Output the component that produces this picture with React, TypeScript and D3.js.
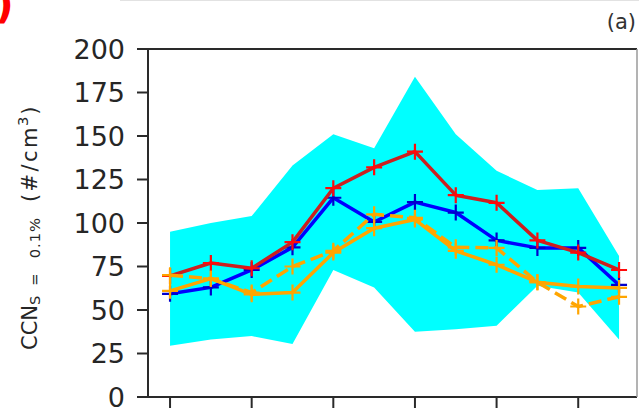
import React from "react";
import { scaleLinear, line, area } from "d3";

// month index on the x axis
const months = [1, 2, 3, 4, 5, 6, 7, 8, 9, 10, 11, 12];
// spread (shaded cyan band)
const bandLower = [29.5, 33, 35, 30.5, 73, 63, 37.5, 39, 41, 64, 60, 33];
const bandUpper = [95, 100, 104, 133, 151, 143, 184, 151, 130, 119, 120, 81];
// series
const redSeries = [69.6, 77, 74, 89, 120, 132, 141, 116, 111.6, 90, 83, 73];
const blueSeries = [59.3, 63, 73, 86, 114.5, 100.6, 112, 106, 90, 85.7, 85.7, 64.4];
const orangeSolid = [61, 68, 59, 60, 83, 97, 102, 84, 76, 66, 63.5, 62.7];
const orangeDashed = [70, 68, 60, 75, 84, 105, 103, 86, 85.7, 66, 52, 57.6];
// ticks
const yTicks = [0, 25, 50, 75, 100, 125, 150, 175, 200];
const xTicks = [1, 3, 5, 7, 9, 11];

const W = 639;
const H = 408;
const left = 148, right = 637, top = 49, bottom = 397;

export default function App() {
  const x = scaleLinear().domain([0.46, 12.44]).range([left, right]);
  const y = scaleLinear().domain([0, 200]).range([bottom, top]);

  const bandPath = area<number>()
    .x((d, i) => x(months[i]))
    .y0((d, i) => y(bandLower[i]))
    .y1((d) => y(d))(bandUpper);

  const lineGen = line<number>()
    .x((d, i) => x(months[i]))
    .y((d) => y(d));

  const series = [
    { values: blueSeries, stroke: "#0000ff", marker: "#0000cc", dash: undefined },
    { values: redSeries, stroke: "#cc1f1f", marker: "#ff0a0a", dash: undefined },
    { values: orangeSolid, stroke: "#ffa500", marker: "#ffa500", dash: undefined },
    { values: orangeDashed, stroke: "#ffa500", marker: "#ffa500", dash: "13 6" },
  ];

  const m = 8; // half marker size
  const font = "DejaVu Sans, sans-serif";

  return (
    <svg
      width={W}
      height={H}
      style={{ position: "absolute", left: 0, top: 0, background: "#fff" }}
    >
      <line x1={120} x2={W} y1={0.5} y2={0.5} stroke="#e2e2e2" strokeWidth={1} />
      <text x={-5} y={18} fontFamily={font} fontSize={41} fill="#ff0000" fontWeight="bold">
        )
      </text>
      <text x={636} y={29} textAnchor="end" fontFamily={font} fontSize={21} fill="#333">
        (a)
      </text>

      <path d={bandPath || ""} fill="#00ffff" />

      {series.map((s, k) => (
        <g key={k}>
          <path
            d={lineGen(s.values) || ""}
            fill="none"
            stroke={s.stroke}
            strokeWidth={3.5}
            strokeDasharray={s.dash}
            strokeLinejoin="round"
          />
          {s.values.map((v, i) => (
            <path
              key={i}
              d={`M${x(months[i]) - m},${y(v)}H${x(months[i]) + m}M${x(months[i])},${y(v) - m}V${y(v) + m}`}
              stroke={s.marker}
              strokeWidth={2.2}
            />
          ))}
        </g>
      ))}

      {/* spines */}
      <line x1={left} x2={right} y1={top} y2={top} stroke="#2a2a2a" strokeWidth={2} />
      <line x1={left} x2={right} y1={bottom} y2={bottom} stroke="#2a2a2a" strokeWidth={2} />
      <line x1={left} x2={left} y1={top} y2={bottom} stroke="#2a2a2a" strokeWidth={2} />
      <line x1={right} x2={right} y1={top} y2={bottom} stroke="#9a9a9a" strokeWidth={1.5} />

      {yTicks.map((t) => (
        <g key={t}>
          <line x1={left - 11} x2={left} y1={y(t)} y2={y(t)} stroke="#2a2a2a" strokeWidth={2} />
          <text
            x={125}
            y={y(t)}
            dy="0.36em"
            textAnchor="end"
            fontFamily={font}
            fontSize={27}
            fill="#262626"
          >
            {t}
          </text>
        </g>
      ))}
      {xTicks.map((t) => (
        <line key={t} x1={x(t)} x2={x(t)} y1={bottom} y2={bottom + 11} stroke="#2a2a2a" strokeWidth={2} />
      ))}

      <text
        transform="translate(37,350) rotate(-90)"
        fontFamily={font}
        fontSize={21}
        fill="#262626"
      >
        <tspan>CCN</tspan>
        <tspan fontSize={14.7} dy={3}>S</tspan>
        <tspan fontSize={14.7} dx={10}>=</tspan>
        <tspan fontSize={14.7} dx={15} letterSpacing={1}>0.1%</tspan>
        <tspan fontSize={21} dy={-3} dx={15} letterSpacing={2.4}>(#/cm</tspan>
        <tspan fontSize={14.7} dy={-9} dx={-1}>3</tspan>
        <tspan fontSize={21} dy={9} dx={2}>)</tspan>
      </text>
    </svg>
  );
}
